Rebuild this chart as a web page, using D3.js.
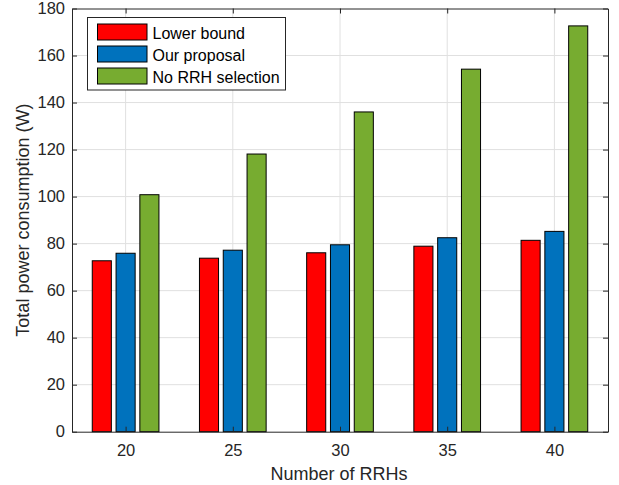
<!DOCTYPE html>
<html>
<head>
<meta charset="utf-8">
<script src="https://cdn.jsdelivr.net/npm/d3@7"></script>
<style>
  body { margin: 0; background: #fff; }
  svg { font-family: "Liberation Sans", Arial, sans-serif; }
</style>
</head>
<body>
<div id="chart"></div>
<script>
const categories = [20, 25, 30, 35, 40];
const seriesNames = ["Lower bound", "Our proposal", "No RRH selection"];
const lowerBound = [72.7, 73.8, 76.1, 78.9, 81.4];
const ourProposal = [75.9, 77.2, 79.5, 82.5, 85.2];
const noSelection = [100.8, 118.1, 136.0, 154.2, 172.6];
const yTicks = [0, 20, 40, 60, 80, 100, 120, 140, 160, 180];
const colors = ["#ff0000", "#0072bd", "#77ac30"];

const series = [lowerBound, ourProposal, noSelection];

const W = 619, H = 485;
const plot = { left: 72, right: 608, top: 8.5, bottom: 431.7 };

const svg = d3.select("#chart").append("svg")
  .attr("width", W).attr("height", H);

const x = d3.scaleLinear().domain([17.5, 42.5]).range([plot.left, plot.right]);
const y = d3.scaleLinear().domain([0, 180]).range([plot.bottom, plot.top]);

// grid
svg.append("g").selectAll("line")
  .data(yTicks.slice(1, -1))
  .enter().append("line")
  .attr("x1", plot.left).attr("x2", plot.right)
  .attr("y1", d => y(d)).attr("y2", d => y(d))
  .attr("stroke", "#e0e0e0").attr("stroke-width", 1);
svg.append("g").selectAll("line")
  .data(categories)
  .enter().append("line")
  .attr("x1", d => x(d)).attr("x2", d => x(d))
  .attr("y1", plot.top).attr("y2", plot.bottom)
  .attr("stroke", "#e0e0e0").attr("stroke-width", 1);

// bars
const offset = 1.11, barW = 0.89;
series.forEach((vals, s) => {
  svg.append("g").selectAll("rect")
    .data(vals)
    .enter().append("rect")
    .attr("x", (d, i) => x(categories[i] + (s - 1) * offset - barW / 2))
    .attr("width", x(barW) - x(0))
    .attr("y", d => y(d))
    .attr("height", d => y(0) - y(d))
    .attr("fill", colors[s])
    .attr("stroke", "#000")
    .attr("stroke-width", 1);
});

// axes (ticks inward, box)
const axisColor = "#262626";
const gx = svg.append("g").attr("transform", `translate(0,${plot.bottom})`)
  .call(d3.axisBottom(x).tickValues(categories).tickSizeInner(-5).tickSizeOuter(0).tickPadding(13));
const gxt = svg.append("g").attr("transform", `translate(0,${plot.top})`)
  .call(d3.axisTop(x).tickValues(categories).tickSizeInner(-5).tickSizeOuter(0).tickFormat(""));
const gy = svg.append("g").attr("transform", `translate(${plot.left},0)`)
  .call(d3.axisLeft(y).tickValues(yTicks).tickSizeInner(-5).tickSizeOuter(0).tickPadding(7));
const gyr = svg.append("g").attr("transform", `translate(${plot.right},0)`)
  .call(d3.axisRight(y).tickValues(yTicks).tickSizeInner(-5).tickSizeOuter(0).tickFormat(""));

[gx, gxt, gy, gyr].forEach(g => {
  g.selectAll("path").attr("stroke", axisColor).attr("stroke-width", 1);
  g.selectAll("line").attr("stroke", axisColor);
  g.selectAll("text").attr("fill", axisColor).style("font-size", "16.5px")
    .style("font-family", "'Liberation Sans', Arial, sans-serif");
});

// axis labels
svg.append("text")
  .attr("x", (plot.left + plot.right) / 2 - 1).attr("y", 480)
  .attr("text-anchor", "middle")
  .attr("fill", axisColor)
  .style("font-size", "18px")
  .text("Number of RRHs");

svg.append("text")
  .attr("transform", `translate(28.5,${(plot.top + plot.bottom) / 2}) rotate(-90)`)
  .attr("text-anchor", "middle")
  .attr("fill", axisColor)
  .style("font-size", "18px")
  .text("Total power consumption (W)");

// legend
const legend = svg.append("g").attr("transform", "translate(87.5,17.5)");
legend.append("rect")
  .attr("width", 198).attr("height", 72.5)
  .attr("fill", "#fff").attr("stroke", axisColor).attr("stroke-width", 1);
seriesNames.forEach((name, i) => {
  const row = legend.append("g").attr("transform", `translate(10,${6.5 + i * 22})`);
  row.append("rect")
    .attr("width", 49.5).attr("height", 16)
    .attr("fill", colors[i]).attr("stroke", "#000").attr("stroke-width", 1);
  row.append("text")
    .attr("x", 55).attr("y", 14.5)
    .attr("fill", "#000")
    .style("font-size", "16px")
    .text(name);
});
</script>
</body>
</html>
